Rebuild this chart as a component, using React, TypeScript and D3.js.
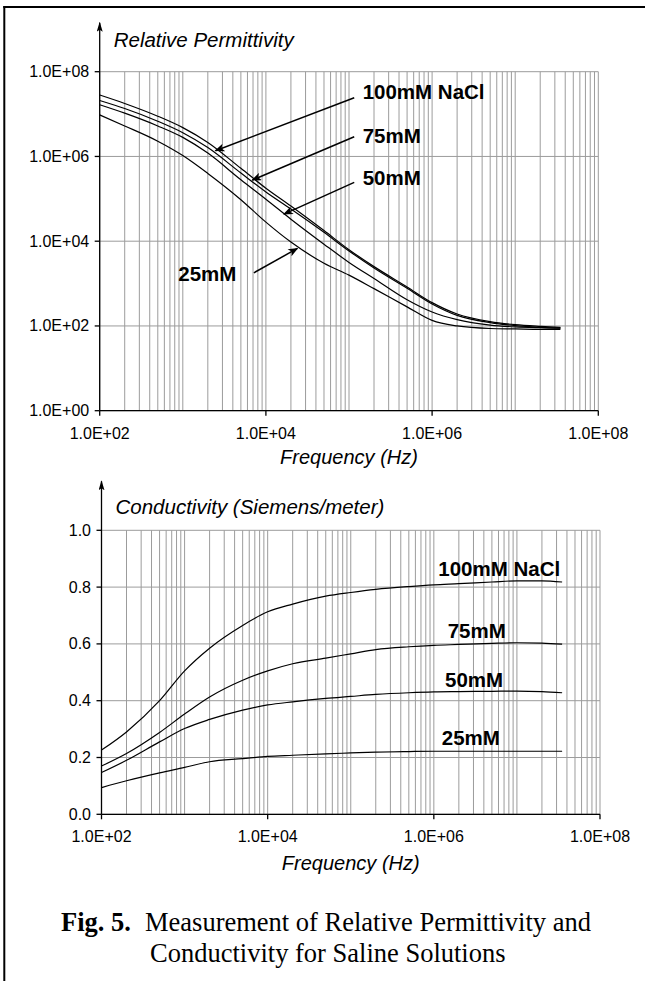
import React from "react";
import * as d3 from "d3";

// measured frequencies (Hz)
const FREQ = [100, 200, 500, 1e3, 2e3, 5e3, 1e4, 2e4, 5e4, 1e5, 2e5, 5e5, 1e6, 2e6, 5e6, 1e7, 2e7, 3.5e7];

// relative permittivity per concentration
const EPS_100 = [2.82e7, 1.78e7, 8.91e6, 4.79e6, 2.14e6, 5.25e5, 1.78e5, 6.76e4, 1.78e4, 6310, 2512, 832, 355, 191, 126, 107, 98, 93];
const EPS_75 = [2.09e7, 1.35e7, 6.76e6, 3.63e6, 1.62e6, 4.07e5, 1.45e5, 5.75e4, 1.62e4, 5890, 2340, 776, 331, 178, 120, 102, 93, 89];
const EPS_50 = [1.66e7, 1.05e7, 5.25e6, 2.82e6, 1.2e6, 2.82e5, 9.8e4, 3.31e4, 8510, 3160, 1320, 417, 214, 141, 105, 95, 91, 89];
const EPS_25 = [9.55e6, 5.25e6, 2.29e6, 1.05e6, 3.98e5, 9.55e4, 2.82e4, 9550, 3020, 1585, 759, 282, 135, 100, 87, 85, 83, 83];

// conductivity (S/m) per concentration
const SIG_100 = [0.226, 0.29, 0.4, 0.505, 0.585, 0.665, 0.713, 0.74, 0.768, 0.781, 0.792, 0.802, 0.808, 0.812, 0.818, 0.822, 0.822, 0.818];
const SIG_75 = [0.17, 0.214, 0.288, 0.353, 0.413, 0.472, 0.505, 0.53, 0.55, 0.565, 0.58, 0.59, 0.595, 0.598, 0.602, 0.604, 0.603, 0.599];
const SIG_50 = [0.147, 0.19, 0.255, 0.302, 0.334, 0.367, 0.385, 0.396, 0.408, 0.415, 0.422, 0.428, 0.431, 0.432, 0.433, 0.434, 0.432, 0.428];
const SIG_25 = [0.094, 0.118, 0.146, 0.165, 0.185, 0.196, 0.204, 0.208, 0.213, 0.216, 0.219, 0.221, 0.222, 0.222, 0.222, 0.222, 0.222, 0.222];

const SERIES = ["100mM NaCl", "75mM", "50mM", "25mM"];

const X_TICKS = [1e2, 1e4, 1e6, 1e8];
const X_TICK_LABELS = ["1.0E+02", "1.0E+04", "1.0E+06", "1.0E+08"];
const EPS_TICKS = [1, 1e2, 1e4, 1e6, 1e8];
const EPS_TICK_LABELS = ["1.0E+00", "1.0E+02", "1.0E+04", "1.0E+06", "1.0E+08"];
const SIG_TICKS = [0, 0.2, 0.4, 0.6, 0.8, 1.0];
const SIG_TICK_LABELS = ["0.0", "0.2", "0.4", "0.6", "0.8", "1.0"];

// label anchors in data space [freq, value]
const EPS_LABELS = [[1.46e5, 2.26e7], [1.46e5, 2.1e6], [1.46e5, 2.11e5], [883, 1143]];
// arrows [tailF, tailV, headF, headV]
const EPS_ARROWS = [
  [1.156e5, 2.43e7, 2472, 1.365e6],
  [1.156e5, 2.92e6, 6855, 2.77e5],
  [1.156e5, 2.44e5, 1.648e4, 4.37e4],
  [7161, 1795, 2.393e4, 6761],
];
const SIG_LABELS = [[1.132e6, 0.839], [1.469e6, 0.622], [1.365e6, 0.449], [1.245e6, 0.244]];

const SANS = "'Liberation Sans', Arial, sans-serif";
const SERIF = "'Liberation Serif', 'Times New Roman', serif";
const GRID = "#9c9c9c";

// minor log gridlines 1..9 x 10^n
const gridFreqs: number[] = [];
for (let d = 2; d < 8; d++) for (let k = 1; k < 10; k++) gridFreqs.push(k * Math.pow(10, d));
gridFreqs.push(1e8);

function Chart({ box, y, yTicks, yLabels, series, labels, arrows, title, xTitleY, titleY }: any) {
  const x = d3.scaleLog().domain([1e2, 1e8]).range([box.left, box.right]);
  const line = d3
    .line<number>()
    .x((_, i) => x(FREQ[i]))
    .y((d) => y(d))
    .curve(d3.curveMonotoneX);

  return (
    <g>
      {gridFreqs.map((f) => (
        <line key={f} x1={x(f)} x2={x(f)} y1={box.top} y2={box.bottom} stroke={GRID} strokeWidth={1} />
      ))}
      {yTicks.map((t: number) => (
        <line key={t} x1={box.left} x2={box.right} y1={y(t)} y2={y(t)} stroke={GRID} strokeWidth={1} />
      ))}
      {series.map((s: number[], i: number) => (
        <path key={i} d={line(s) || ""} fill="none" stroke="#000" strokeWidth={1.2} />
      ))}
      {/* axes */}
      <line x1={box.left} x2={box.left} y1={box.top - 49} y2={box.bottom} stroke="#000" strokeWidth={1.3} markerStart="url(#axisArrow)" />
      <line x1={box.left} x2={box.right} y1={box.bottom} y2={box.bottom} stroke="#000" strokeWidth={1.3} />
      {yTicks.map((t: number, i: number) => (
        <g key={t}>
          <line x1={box.left - 5} x2={box.left} y1={y(t)} y2={y(t)} stroke="#000" strokeWidth={1.3} />
          <text x={box.left - 10.5} y={y(t) + 5.5} textAnchor="end" fontFamily={SANS} fontSize={16}>
            {yLabels[i]}
          </text>
        </g>
      ))}
      {X_TICKS.map((t, i) => (
        <g key={t}>
          <line x1={x(t)} x2={x(t)} y1={box.bottom} y2={box.bottom + 5} stroke="#000" strokeWidth={1.3} />
          <text x={x(t)} y={box.bottom + 28} textAnchor="middle" fontFamily={SANS} fontSize={16}>
            {X_TICK_LABELS[i]}
          </text>
        </g>
      ))}
      <text x={(box.left + box.right) / 2} y={xTitleY} textAnchor="middle" fontFamily={SANS} fontStyle="italic" fontSize={20}>
        Frequency (Hz)
      </text>
      <text x={box.left + 14} y={titleY} fontFamily={SANS} fontStyle="italic" fontSize={20.5}>
        {title}
      </text>
      {labels.map((p: number[], i: number) => (
        <text key={i} x={x(p[0])} y={y(p[1])} fontFamily={SANS} fontWeight="bold" fontSize={20.5}>
          {SERIES[i]}
        </text>
      ))}
      {arrows.map((a: number[], i: number) => (
        <line key={i} x1={x(a[0])} y1={y(a[1])} x2={x(a[2])} y2={y(a[3])} stroke="#000" strokeWidth={1.5} markerEnd="url(#arrowHead)" />
      ))}
    </g>
  );
}

export default function App() {
  const topBox = { left: 99.7, right: 598.3, top: 71.7, bottom: 410.7 };
  const botBox = { left: 101.5, right: 600, top: 530.3, bottom: 814.3 };
  const yEps = d3.scaleLog().domain([1, 1e8]).range([topBox.bottom, topBox.top]);
  const ySig = d3.scaleLinear().domain([0, 1]).range([botBox.bottom, botBox.top]);

  return (
    <svg width={645} height={981} style={{ position: "absolute", left: 0, top: 0, background: "#fff" }}>
      <defs>
        <marker id="arrowHead" viewBox="0 0 10 8" refX={9} refY={4} markerWidth={11} markerHeight={8} markerUnits="userSpaceOnUse" orient="auto">
          <path d="M0,0 L10,4 L0,8 L2.5,4 z" fill="#000" />
        </marker>
        <marker id="axisArrow" viewBox="0 0 10 6" refX={9} refY={3} markerWidth={10} markerHeight={6} markerUnits="userSpaceOnUse" orient="auto-start-reverse">
          <path d="M0,0 L10,3 L0,6 L2,3 z" fill="#000" />
        </marker>
      </defs>
      <rect x={0} y={0} width={645} height={981} fill="#fff" />
      {/* figure frame (top and left edges visible) */}
      <line x1={3.3} x2={645} y1={7} y2={7} stroke="#000" strokeWidth={2} />
      <line x1={4.3} x2={4.3} y1={6} y2={981} stroke="#000" strokeWidth={2} />

      <Chart
        box={topBox}
        y={yEps}
        yTicks={EPS_TICKS}
        yLabels={EPS_TICK_LABELS}
        series={[EPS_100, EPS_75, EPS_50, EPS_25]}
        labels={EPS_LABELS}
        arrows={EPS_ARROWS}
        title="Relative Permittivity"
        titleY={46.7}
        xTitleY={463.5}
      />
      <Chart
        box={botBox}
        y={ySig}
        yTicks={SIG_TICKS}
        yLabels={SIG_TICK_LABELS}
        series={[SIG_100, SIG_75, SIG_50, SIG_25]}
        labels={SIG_LABELS}
        arrows={[]}
        title="Conductivity (Siemens/meter)"
        titleY={514}
        xTitleY={869.5}
      />

      <text y={931} fontFamily={SERIF} fontSize={26.5}>
        <tspan x={61} fontWeight="bold">Fig. 5.</tspan>
        <tspan x={145}>Measurement of Relative Permittivity and</tspan>
      </text>
      <text x={150} y={961.5} fontFamily={SERIF} fontSize={26.5}>
        Conductivity for Saline Solutions
      </text>
    </svg>
  );
}
